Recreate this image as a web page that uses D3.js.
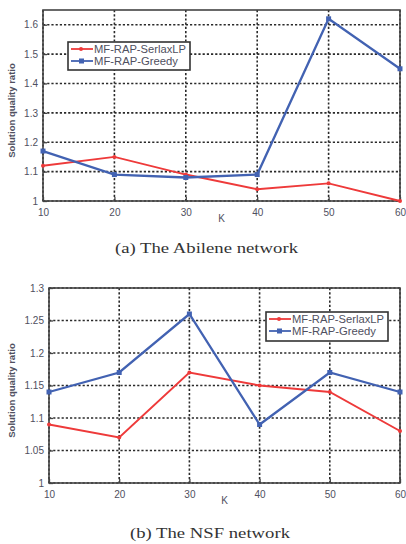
<!DOCTYPE html>
<html><head><meta charset="utf-8">
<script src="https://cdn.jsdelivr.net/npm/d3@7"></script>
<style>body{margin:0;background:#fff}svg{display:block}</style>
</head><body>
<svg id="c" width="406" height="544"></svg>
<script>
const kValues = [10, 20, 30, 40, 50, 60];
const seriesNames = ["MF-RAP-SerlaxLP", "MF-RAP-Greedy"];
const abileneSerlax = [1.12, 1.15, 1.09, 1.04, 1.06, 1.00];
const abileneGreedy = [1.17, 1.09, 1.08, 1.09, 1.62, 1.45];
const nsfSerlax = [1.09, 1.07, 1.17, 1.15, 1.14, 1.08];
const nsfGreedy = [1.14, 1.17, 1.26, 1.09, 1.17, 1.14];
const abileneYTicks = [1, 1.1, 1.2, 1.3, 1.4, 1.5, 1.6];
const nsfYTicks = [1, 1.05, 1.1, 1.15, 1.2, 1.25, 1.3];
const captions = ["(a) The Abilene network", "(b) The NSF network"];
const colors = ["#ee3a3a", "#4262b2"];

const svg = d3.select("#c");
const textCol = "#4f5060";

function panel(cfg) {
  const g = svg.append("g");
  const x = d3.scaleLinear().domain([10, 60]).range([cfg.x0, cfg.x1]);
  const y = d3.scaleLinear().domain(cfg.yDomain).range([cfg.y1, cfg.y0]);
  // grid
  g.selectAll(".hg").data(cfg.yTicks).join("line")
    .attr("x1", cfg.x0).attr("x2", cfg.x1)
    .attr("y1", d => y(d)).attr("y2", d => y(d))
    .attr("stroke", "#2a2a2a").attr("stroke-width", 1.6).attr("stroke-dasharray", "2.2,2");
  g.selectAll(".vg").data(kValues).join("line")
    .attr("x1", d => x(d)).attr("x2", d => x(d))
    .attr("y1", cfg.y0).attr("y2", cfg.y1)
    .attr("stroke", "#2a2a2a").attr("stroke-width", 1.6).attr("stroke-dasharray", "2.2,2");
  // axes
  const fmt = d => d3.format("")(+d.toFixed(2));
  const ax = g.append("g").attr("transform", `translate(0,${cfg.y1})`)
    .call(d3.axisBottom(x).tickValues(kValues).tickSize(-4).tickPadding(8).tickFormat(d3.format("d")));
  const ay = g.append("g").attr("transform", `translate(${cfg.x0},0)`)
    .call(d3.axisLeft(y).tickValues(cfg.yTicks).tickSize(-4).tickPadding(5).tickFormat(fmt));
  [ax, ay].forEach(a => {
    a.select(".domain").remove();
    a.selectAll("line").attr("stroke", "#444").attr("stroke-width", 1.3);
    a.selectAll("text").attr("fill", textCol).style("font-family", "Liberation Sans, Arial, sans-serif").style("font-size", "10px");
  });
  // frame
  g.append("rect").attr("x", cfg.x0).attr("y", cfg.y0)
    .attr("width", cfg.x1 - cfg.x0).attr("height", cfg.y1 - cfg.y0)
    .attr("fill", "none").attr("stroke", "#444").attr("stroke-width", 1.6);
  // series
  const line = d3.line().x((d, i) => x(kValues[i])).y(d => y(d));
  cfg.series.forEach((s, si) => {
    g.append("path").datum(s).attr("d", line).attr("fill", "none")
      .attr("stroke", colors[si]).attr("stroke-width", si === 0 ? 1.9 : 2.3);
    if (si === 0) {
      g.selectAll(".m" + si).data(s).join("circle")
        .attr("cx", (d, i) => x(kValues[i])).attr("cy", d => y(d)).attr("r", 2)
        .attr("fill", colors[si]);
    } else {
      g.selectAll(".m" + si).data(s).join("rect")
        .attr("x", (d, i) => x(kValues[i]) - 2.5).attr("y", d => y(d) - 2.5)
        .attr("width", 5).attr("height", 5).attr("fill", colors[si]);
    }
  });
  // labels
  g.append("text").attr("x", (cfg.x0 + cfg.x1) / 2).attr("y", cfg.y1 + 21)
    .attr("text-anchor", "middle").attr("fill", textCol)
    .style("font-family", "Liberation Sans, Arial, sans-serif").style("font-size", "10px").text("K");
  g.append("text").attr("transform", `translate(${cfg.ylx},${(cfg.y0 + cfg.y1) / 2 + 5}) rotate(-90)`)
    .attr("text-anchor", "middle").attr("fill", textCol)
    .style("font-family", "Liberation Sans, Arial, sans-serif").style("font-size", "9.5px").style("font-weight", "bold")
    .text("Solution quality ratio");
  g.append("text").attr("x", cfg.capX).attr("y", cfg.capY)
    .attr("textLength", cfg.capLen).attr("lengthAdjust", "spacingAndGlyphs")
    .attr("fill", "#333").style("font-family", "Liberation Serif, Times New Roman, serif").style("font-size", "15px")
    .text(cfg.caption);
  // legend
  const L = cfg.leg;
  const lg = g.append("g");
  lg.append("rect").attr("x", L.x).attr("y", L.y).attr("width", L.w).attr("height", L.h)
    .attr("fill", "#fff").attr("stroke", "#333").attr("stroke-width", 1.6);
  seriesNames.forEach((n, i) => {
    const yy = L.y + 7 + i * 12;
    lg.append("line").attr("x1", L.x + 3).attr("x2", L.x + 25).attr("y1", yy).attr("y2", yy)
      .attr("stroke", colors[i]).attr("stroke-width", 1.8);
    if (i === 0) lg.append("circle").attr("cx", L.x + 13).attr("cy", yy).attr("r", 2).attr("fill", colors[i]);
    else lg.append("rect").attr("x", L.x + 11).attr("y", yy - 2.5).attr("width", 5).attr("height", 5).attr("fill", colors[i]);
    lg.append("text").attr("x", L.x + 26).attr("y", yy + 3.5)
      .attr("textLength", i === 0 ? 92 : 84).attr("lengthAdjust", "spacingAndGlyphs")
      .attr("fill", textCol).style("font-family", "Liberation Sans, Arial, sans-serif").style("font-size", "10px")
      .text(n);
  });
}

panel({x0: 43, x1: 400, y0: 10, y1: 201, yDomain: [1, 1.65], yTicks: abileneYTicks,
  series: [abileneSerlax, abileneGreedy], ylx: 15, caption: captions[0], capX: 115, capY: 253, capLen: 183,
  leg: {x: 68, y: 42, w: 122, h: 28}});
panel({x0: 49, x1: 400, y0: 288, y1: 483, yDomain: [1, 1.3], yTicks: nsfYTicks,
  series: [nsfSerlax, nsfGreedy], ylx: 15, caption: captions[1], capX: 130, capY: 538, capLen: 160,
  leg: {x: 266, y: 312, w: 122, h: 29}});
</script>
</body></html>
